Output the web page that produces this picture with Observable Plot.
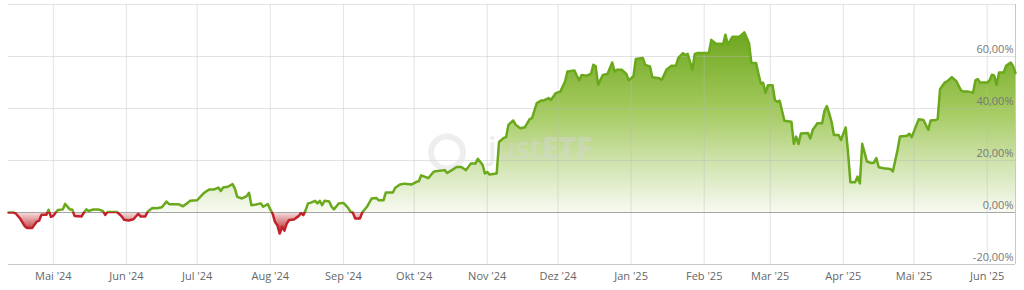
<!DOCTYPE html>
<html><head><meta charset="utf-8">
<script src="https://cdn.jsdelivr.net/npm/d3@7"></script>
<script src="https://cdn.jsdelivr.net/npm/@observablehq/plot@0.6"></script>
<style>body{margin:0;background:#fff;} svg{display:block;}</style>
</head><body><div id="chart"></div>
<script>
const dates = [
"2024-04-12","2024-04-14","2024-04-15","2024-04-17","2024-04-19","2024-04-20","2024-04-22","2024-04-23","2024-04-24","2024-04-25","2024-04-26","2024-04-28","2024-04-29","2024-04-30",
"2024-05-01","2024-05-02","2024-05-03","2024-05-05","2024-05-06","2024-05-08","2024-05-09","2024-05-10","2024-05-13","2024-05-14","2024-05-15","2024-05-16","2024-05-18","2024-05-20","2024-05-22","2024-05-23","2024-05-24","2024-05-28","2024-05-30","2024-05-31",
"2024-06-02","2024-06-04","2024-06-06","2024-06-07","2024-06-09","2024-06-10","2024-06-12","2024-06-14","2024-06-16","2024-06-18","2024-06-19","2024-06-20","2024-06-23","2024-06-25","2024-06-27","2024-06-28",
"2024-07-01","2024-07-03","2024-07-04","2024-07-06","2024-07-08","2024-07-10","2024-07-11","2024-07-12","2024-07-14","2024-07-16","2024-07-17","2024-07-18","2024-07-20","2024-07-22","2024-07-23","2024-07-24","2024-07-26","2024-07-28","2024-07-29","2024-07-31",
"2024-08-01","2024-08-02","2024-08-03","2024-08-04","2024-08-05","2024-08-06","2024-08-07","2024-08-08","2024-08-09","2024-08-11","2024-08-13","2024-08-14","2024-08-15","2024-08-16","2024-08-17","2024-08-18","2024-08-20","2024-08-21","2024-08-22","2024-08-23","2024-08-24","2024-08-26","2024-08-27","2024-08-28","2024-08-30",
"2024-09-01","2024-09-03","2024-09-04","2024-09-05","2024-09-06","2024-09-08","2024-09-09","2024-09-11","2024-09-13","2024-09-15","2024-09-16","2024-09-18","2024-09-19","2024-09-22","2024-09-23","2024-09-25","2024-09-27","2024-09-30",
"2024-10-02","2024-10-03","2024-10-04","2024-10-06","2024-10-07","2024-10-09","2024-10-10","2024-10-14","2024-10-15","2024-10-17","2024-10-19","2024-10-21","2024-10-23","2024-10-25","2024-10-27","2024-10-28","2024-10-30","2024-10-31",
"2024-11-01","2024-11-02","2024-11-05","2024-11-06","2024-11-08","2024-11-09","2024-11-10","2024-11-12","2024-11-13","2024-11-15","2024-11-17","2024-11-19","2024-11-20","2024-11-22","2024-11-24","2024-11-25","2024-11-27","2024-11-28","2024-11-30",
"2024-12-02","2024-12-04","2024-12-05","2024-12-08","2024-12-09","2024-12-10","2024-12-11","2024-12-13","2024-12-15","2024-12-16","2024-12-17","2024-12-18","2024-12-20","2024-12-22","2024-12-24","2024-12-25","2024-12-26","2024-12-28","2024-12-30","2024-12-31",
"2025-01-02","2025-01-03","2025-01-06","2025-01-07","2025-01-09","2025-01-10","2025-01-13","2025-01-14","2025-01-16","2025-01-18","2025-01-20","2025-01-21","2025-01-23","2025-01-24","2025-01-25","2025-01-27","2025-01-28","2025-01-29","2025-01-30",
"2025-02-03","2025-02-04","2025-02-06","2025-02-08","2025-02-09","2025-02-10","2025-02-11","2025-02-13","2025-02-16","2025-02-18","2025-02-20","2025-02-21","2025-02-23","2025-02-24","2025-02-25","2025-02-26","2025-02-27","2025-02-28",
"2025-03-02","2025-03-03","2025-03-04","2025-03-05","2025-03-07","2025-03-10","2025-03-11","2025-03-12","2025-03-13","2025-03-14","2025-03-17","2025-03-18","2025-03-19","2025-03-21","2025-03-23","2025-03-24","2025-03-25","2025-03-26","2025-03-27","2025-03-28","2025-03-30","2025-03-31",
"2025-04-02","2025-04-03","2025-04-04","2025-04-06","2025-04-07","2025-04-08","2025-04-09","2025-04-11","2025-04-13","2025-04-14","2025-04-15","2025-04-16","2025-04-18","2025-04-21","2025-04-22","2025-04-24","2025-04-25","2025-04-28","2025-04-29","2025-04-30",
"2025-05-02","2025-05-03","2025-05-05","2025-05-07","2025-05-08","2025-05-10","2025-05-11","2025-05-12","2025-05-14","2025-05-15","2025-05-17","2025-05-19","2025-05-20","2025-05-21","2025-05-22","2025-05-24","2025-05-26","2025-05-27","2025-05-28","2025-05-29",
"2025-06-01","2025-06-02","2025-06-03","2025-06-04","2025-06-05","2025-06-06","2025-06-08","2025-06-09","2025-06-11","2025-06-12","2025-06-13"
];
const values = [
0,0,-0.3,-2.4,-5.4,-6.0,-6.0,-4.7,-3.5,-3.1,-0.9,-0.9,1.0,-1.7,
-1.3,0,1.0,1.2,3.3,1.2,1.2,-1.3,-1.5,0,1.2,0.6,1.2,1.2,0.6,-0.9,0.2,0.2,-1.5,-2.8,
-3.1,-2.6,-0.5,-1.5,-1.5,0.3,1.7,1.6,2.0,4.2,3.3,3.2,3.2,2.4,3.7,4.5,
4.7,6.7,7.6,8.8,8.8,9.6,8.3,9.6,9.9,10.9,9.2,6.0,5.4,6.3,7.6,2.8,3.1,3.5,2.2,3.2,
1.2,-0.4,-3.6,-4.9,-8.1,-5.5,-7.0,-4.2,-2.9,-2.7,-1.4,-0.2,-1.0,0.9,3.5,3.7,4.5,3.5,4.5,2.8,4.5,4.2,2.2,1.2,3.5,
3.7,1.8,0.3,0,-2.3,-2.3,0,2.2,5.4,5.6,4.7,4.7,7.7,7.7,9.5,10.8,11.1,10.8,
11.8,12.0,14.3,13.6,13.2,15.4,15.9,16.3,15.2,16.3,17.5,17.5,16.3,18.8,18.8,20.7,18.4,15.0,
15.6,14.6,15.0,27.1,28.7,29.0,33.7,35.4,33.8,32.4,32.8,35.9,36.3,42.1,43.1,43.1,44.0,43.3,45.9,
46.5,50.4,54.2,54.6,52.6,50.8,52.9,52.6,53.3,56.8,56.2,49.1,52.9,53.3,57.7,54.2,54.9,54.9,53.3,50.8,
52.4,59.0,59.4,56.8,56.2,52.0,51.6,51.0,54.9,56.4,56.4,59.4,61.3,60.6,61.0,54.9,61.0,61.3,61.3,
61.3,66.4,64.9,64.9,64.6,68.4,64.6,67.6,67.6,69.3,65.1,57.5,57.5,53.4,49.6,49.9,46.0,48.9,
48.9,43.2,42.6,43.0,35.3,34.9,26.4,29.2,26.4,30.4,30.6,28.5,31.7,34.3,34.3,39.1,40.9,38.1,34.9,29.8,29.8,27.9,
32.7,22.8,11.6,11.6,13.8,11.2,26.4,19.6,19.0,19.2,20.9,17.4,17.0,16.7,15.8,24.1,29.2,29.5,30.3,29.0,
33.7,35.9,35.6,31.8,35.4,35.6,35.9,47.4,50.0,50.4,52.1,50.4,48.5,46.9,46.5,46.5,46.1,50.8,51.3,50.0,
50.0,50.8,53.0,52.6,49.1,53.8,53.8,56.4,57.7,56.2,53.6
];
const xTickDates = ["2024-05-01","2024-06-01","2024-07-01","2024-08-01","2024-09-01","2024-10-01","2024-11-01","2024-12-01","2025-01-01","2025-02-01","2025-03-01","2025-04-01","2025-05-01","2025-06-01"];
const xTickLabels = ["Mai '24","Jun '24","Jul '24","Aug '24","Sep '24","Okt '24","Nov '24","Dez '24","Jan '25","Feb '25","Mar '25","Apr '25","Mai '25","Jun '25"];
const yTicks = [-20, 0, 20, 40, 60, 80];
const yTickLabels = ["-20,00%", "0,00%", "20,00%", "40,00%", "60,00%", ""];
const xStart = "2024-04-12", xEnd = "2025-06-13";

const data = dates.map((d, i) => ({date: new Date(d), value: values[i]}));
const tickDates = xTickDates.map(d => new Date(d));
const labelOf = d => xTickLabels[tickDates.findIndex(t => +t === +d)];
const xDomain = [new Date(xStart), new Date(xEnd)];
const W = 1024, H = 290;

const plot = Plot.plot({
  width: W, height: H,
  marginLeft: 8, marginRight: 9, marginTop: 4, marginBottom: 26,
  style: {fontFamily: "'Open Sans', sans-serif", fontSize: "11px", color: "#666", background: "#fff", overflow: "visible"},
  x: {type: "utc", domain: xDomain, ticks: tickDates, tickFormat: labelOf, tickSize: 0, tickPadding: 8, label: null},
  y: {domain: [-20, 80], axis: null},
  marks: [
    Plot.areaY(data, {x: "date", y1: 0, y2: "value", fill: "url(#areaGrad)"}),
    Plot.ruleX(tickDates, {stroke: "#b8b8b8", strokeOpacity: 0.4}),
    Plot.ruleY(yTicks.filter(v => v > 0), {stroke: "#b8b8b8", strokeOpacity: 0.4}),
    Plot.ruleY([-20], {stroke: "#c8c8c8"}),
    Plot.ruleY([0], {stroke: "#a6a6a6"}),
    Plot.ruleX([xDomain[1]], {stroke: "#c8c8c8"}),
    Plot.dot(["logo"], {frameAnchor: "middle", dx: -65, dy: 18, r: 16, fill: "none", stroke: "#d9d9d9", strokeWidth: 6, strokeOpacity: 0.45}),
    Plot.text(["just"], {frameAnchor: "middle", dx: 30, dy: 15, textAnchor: "end", fontSize: 30, fontWeight: 600, fill: "#d6d6d6", fillOpacity: 0.45}),
    Plot.text(["ETF"], {frameAnchor: "middle", dx: 30, dy: 15, textAnchor: "start", fontSize: 30, fontWeight: 800, fill: "#d6d6d6", fillOpacity: 0.45}),
    Plot.line(data, {x: "date", y: "value", stroke: "url(#lineGrad)", strokeWidth: 2.5, strokeLinejoin: "round"}),
    Plot.text(yTicks, {y: d => d, text: (d, i) => yTickLabels[i], frameAnchor: "right", textAnchor: "end", dx: -2, dy: -7, fill: "#777"})
  ]
});

const ys = plot.scale("y");
const y0 = ys.apply(0), yTop = ys.apply(70), y40 = ys.apply(40), y20 = ys.apply(20), yNeg = ys.apply(-8);
const svg = d3.select(plot);
const defs = svg.insert("defs", ":first-child");
const off = v => Math.max(0, Math.min(1, v / H));
const ag = defs.append("linearGradient").attr("id", "areaGrad").attr("gradientUnits", "userSpaceOnUse")
  .attr("x1", 0).attr("x2", 0).attr("y1", 0).attr("y2", H);
[[yTop, "#6ca51c"], [y40, "#a2c95c"], [y20, "#cde2aa"], [y0, "#f7faf1"], [y0, "#f8e2e2"], [yNeg, "#b71c22"]]
  .forEach(([p, c]) => ag.append("stop").attr("offset", off(p)).attr("stop-color", c));
const lg = defs.append("linearGradient").attr("id", "lineGrad").attr("gradientUnits", "userSpaceOnUse")
  .attr("x1", 0).attr("x2", 0).attr("y1", 0).attr("y2", H);
[[y0, "#6aa81c"], [y0, "#c0232b"]]
  .forEach(([p, c]) => lg.append("stop").attr("offset", off(p)).attr("stop-color", c));

document.getElementById("chart").appendChild(plot);
</script>
</body></html>
